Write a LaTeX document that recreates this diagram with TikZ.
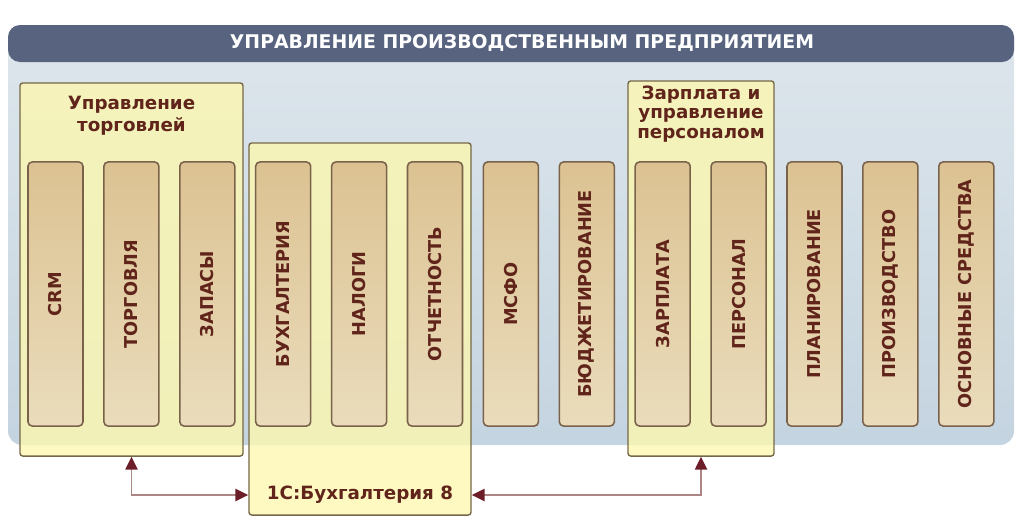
\documentclass[tikz,border=0pt]{standalone}
\usepackage{fontspec}
\setmainfont{DejaVu Sans}
\usetikzlibrary{arrows.meta}
\definecolor{barblue}{RGB}{88,99,127}
\definecolor{paneltop}{RGB}{222,230,236}
\definecolor{panelbot}{RGB}{196,212,224}
\definecolor{grpyellow}{RGB}{252,247,176}
\definecolor{grpedge}{RGB}{118,104,72}
\definecolor{coltop}{RGB}{220,194,146}
\definecolor{colmid}{RGB}{246,238,218}
\definecolor{colbot}{RGB}{234,220,188}
\definecolor{coledge}{RGB}{122,98,74}
\definecolor{txtbrown}{RGB}{96,36,26}
\definecolor{arrline}{RGB}{172,134,134}
\definecolor{arrhead}{RGB}{108,30,40}
\tikzset{
  module/.style={draw=coledge, line width=1.1pt, rounded corners=3pt,
    top color=coltop, middle color=colmid, bottom color=colbot,
    rotate=90, minimum width=6.6cm, minimum height=1.375cm, inner sep=0pt,
    text=txtbrown, font=\fontsize{12.6}{15}\selectfont\bfseries},
  grpbox/.style={draw=grpedge, line width=1pt, fill=grpyellow, fill opacity=0.8,
    rounded corners=2pt},
  grplabel/.style={text=txtbrown, align=center, inner sep=0pt},
  dlink/.style={draw=arrline, line width=1.4pt,
    {Triangle[length=0.32cm, width=0.3cm, color=arrhead]}-{Triangle[length=0.32cm, width=0.3cm, color=arrhead]}}
}
\begin{document}
\begin{tikzpicture}[x=0.025cm, y=0.025cm]
\useasboundingbox (0,0) rectangle (1024,-527);
\shade[top color=paneltop, bottom color=panelbot, rounded corners=0.35cm] (8,-25) rectangle (1014,-445);
\fill[barblue, rounded corners=0.3cm] (8,-25) rectangle (1014,-62);
\node (title) at (522,-43) {\color{white}\fontsize{13.4}{16}\selectfont\bfseries УПРАВЛЕНИЕ ПРОИЗВОДСТВЕННЫМ ПРЕДПРИЯТИЕМ};

\node[grpbox, minimum width=5.575cm, minimum height=9.325cm] (tradebox) at (131.5,-269.5) {};
\node[grpbox, minimum width=5.55cm, minimum height=9.3cm] (accbox) at (360,-329) {};
\node[grpbox, minimum width=3.65cm, minimum height=9.375cm] (staffbox) at (701,-268.5) {};

\node[grplabel, font=\fontsize{13}{15.5}\selectfont\bfseries] (tradelabel) at (131.5,-116) {Управление\\торговлей};
\node[grplabel, font=\fontsize{13}{13.8}\selectfont\bfseries] (stafflabel) at (701,-114) {Зарплата и\\управление\\персоналом};
\node[grplabel, font=\fontsize{13}{15}\selectfont\bfseries] (acclabel) at (360,-495) {1С:Бухгалтерия 8};

\node[module] (crm) at (55.5,-294) {CRM};
\node[module] (trade) at (131.4,-294) {ТОРГОВЛЯ};
\node[module] (stock) at (207.3,-294) {ЗАПАСЫ};
\node[module] (ledger) at (283.2,-294) {БУХГАЛТЕРИЯ};
\node[module] (taxes) at (359.1,-294) {НАЛОГИ};
\node[module] (reports) at (435.0,-294) {ОТЧЕТНОСТЬ};
\node[module] (ifrs) at (510.9,-294) {МСФО};
\node[module] (budget) at (586.8,-294) {БЮДЖЕТИРОВАНИЕ};
\node[module] (salary) at (662.7,-294) {ЗАРПЛАТА};
\node[module] (staff) at (738.6,-294) {ПЕРСОНАЛ};
\node[module] (planning) at (814.5,-294) {ПЛАНИРОВАНИЕ};
\node[module] (production) at (890.4,-294) {ПРОИЗВОДСТВО};
\node[module] (assets) at (966.3,-294) {ОСНОВНЫЕ СРЕДСТВА};

\draw[dlink] (tradebox.south) |- (accbox.west |- acclabel);
\draw[dlink] (staffbox.south) |- (accbox.east |- acclabel);
\end{tikzpicture}
\end{document}
